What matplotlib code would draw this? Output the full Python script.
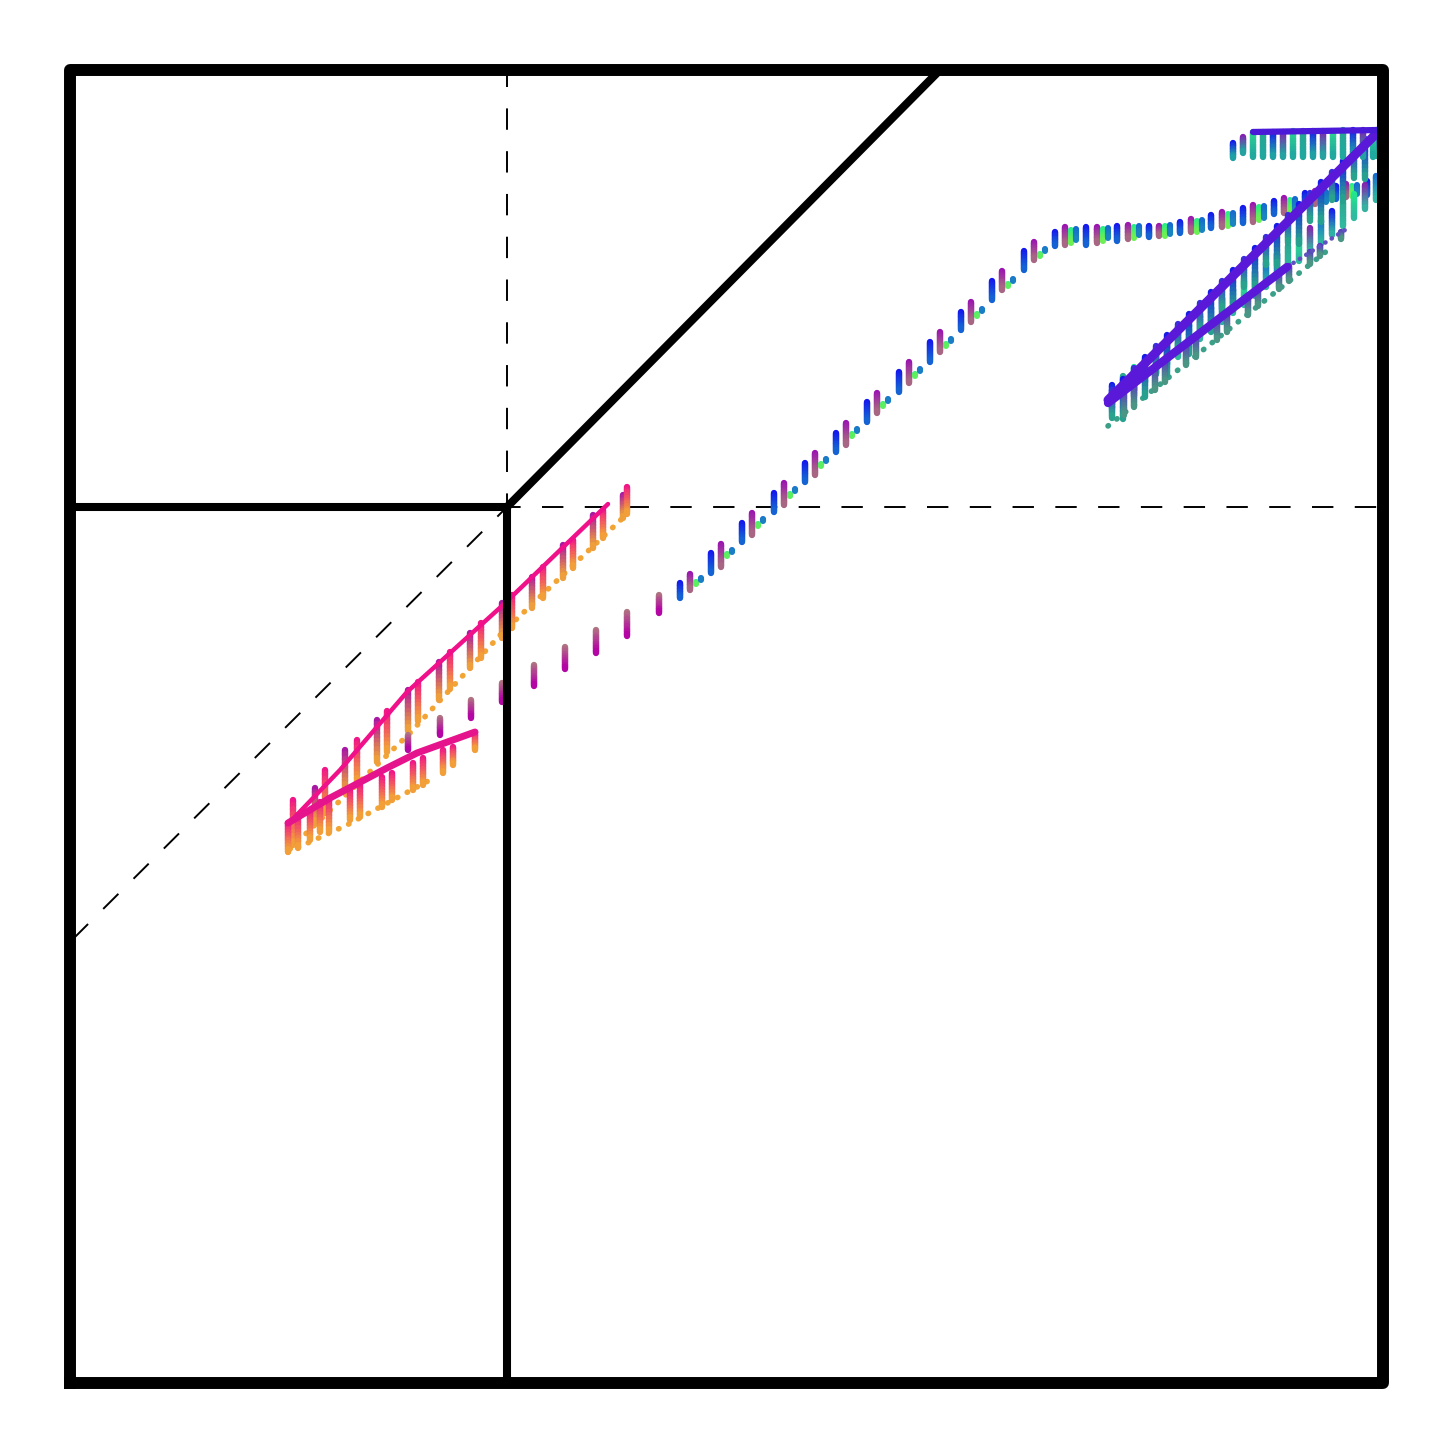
import numpy as np
import matplotlib
matplotlib.use('agg')
import matplotlib.pyplot as plt
from matplotlib.collections import LineCollection
from matplotlib.colors import to_rgb

# ---- box edges (picture units, y grows downward) ----
box_x = [70, 1383, 1383, 70, 70]
box_y = [1383, 1383, 70, 70, 1383]
edge_x = [70, 507, 507]
edge_y = [507, 507, 1383]
diag_x = [507, 940]
diag_y = [507, 70]
dash_v_x, dash_v_y = [507, 507], [507, 70]
dash_h_x, dash_h_y = [507, 1383], [507, 507]
dash_d_x, dash_d_y = [507, 75], [507, 937]

# ---- magenta group ----
a_line_x = [290, 340, 407, 503, 608]
a_line_y = [822, 770, 692, 605, 504]
a_dot_x = [290, 410, 503, 628]
a_dot_y = [849, 733, 632, 513]
a_bar_x = [293, 315, 325, 345, 357, 377, 387, 408, 418, 439, 450, 470, 481, 502, 512, 532, 543, 563, 573, 593, 603, 623, 627]
a_bar_top = [800, 788, 770, 750, 740, 720, 711, 690, 682, 662, 652, 633, 623, 603, 595, 577, 567, 545, 540, 515, 510, 495, 487]
a_bar_bot = [845, 823, 813, 793, 782, 762, 752, 731, 721, 700, 689, 668, 658, 638, 628, 608, 598, 578, 568, 548, 538, 518, 514]

a2_line_x = [288, 330, 387, 417, 475]
a2_line_y = [823, 798, 768, 753, 732]
a2_dot_x = [288, 347, 428]
a2_dot_y = [852, 825, 781]
a2_bar_x = [288, 298, 310, 320, 329, 350, 360, 382, 392, 413, 423, 443, 453, 475]
a2_bar_top = [823, 815, 810, 802, 798, 790, 785, 777, 773, 763, 758, 750, 747, 733]
a2_bar_bot = [852, 848, 840, 832, 832, 820, 817, 807, 800, 790, 785, 773, 765, 750]

c_bar_x = [408, 440, 471, 502, 534, 565, 596, 627, 659]
c_bar_top = [735, 718, 700, 683, 665, 647, 630, 612, 595]
c_bar_bot = [750, 735, 718, 702, 686, 669, 653, 636, 613]

# ---- blue path ----
p_blue_x = [680, 711, 742, 774, 805, 836, 867, 899, 930, 961, 992, 1024, 1055, 1086, 1117, 1149, 1180, 1211, 1243, 1274, 1305, 1336, 1367]
p_blue_top = [583, 553, 523, 493, 463, 433, 402, 372, 342, 312, 281, 251, 232, 227, 226, 226, 222, 215, 208, 201, 193, 186, 181]
p_blue_bot = [598, 573, 542, 512, 482, 452, 422, 392, 362, 330, 300, 270, 246, 245, 241, 237, 233, 228, 223, 214, 206, 199, 195]
p_purp_x = [690, 721, 752, 784, 815, 846, 877, 909, 940, 971, 1002, 1034, 1065, 1097, 1128, 1159, 1191, 1222, 1253, 1284, 1315, 1346, 1377]
p_purp_top = [574, 544, 513, 483, 453, 423, 393, 362, 332, 302, 271, 242, 227, 227, 225, 226, 219, 212, 205, 198, 191, 184, 178]
p_purp_bot = [590, 567, 535, 505, 475, 445, 413, 383, 352, 322, 290, 260, 245, 243, 239, 236, 232, 227, 222, 213, 204, 197, 193]
p_green_x = [696, 727, 758, 790, 821, 852, 883, 915, 946, 977, 1008, 1040, 1071, 1103, 1134, 1165, 1197, 1228, 1259, 1290, 1321, 1352, 1380]
p_green_top = [582, 554, 524, 494, 464, 434, 404, 374, 344, 314, 284, 254, 230, 229, 227, 226, 221, 214, 207, 200, 193, 186, 181]
p_green_bot = [584, 556, 526, 496, 466, 436, 406, 376, 346, 316, 286, 256, 243, 241, 238, 236, 232, 226, 220, 212, 204, 196, 192]
p_teal_x = [701, 732, 763, 795, 826, 857, 888, 920, 951, 982, 1013, 1045, 1076, 1108, 1139, 1170, 1202, 1233, 1264, 1295, 1326, 1357]
p_teal_top = [578, 550, 519, 489, 459, 429, 399, 369, 339, 309, 279, 249, 229, 228, 226, 225, 220, 213, 206, 199, 192, 185]
p_teal_bot = [580, 552, 521, 491, 461, 431, 401, 371, 341, 311, 281, 251, 240, 238, 235, 234, 230, 224, 218, 210, 202, 194]

# ---- upper right group ----
d_line_x = [1253, 1380]
d_line_y = [132, 130]
d_bar_x = [1233, 1243, 1253, 1263, 1273, 1283, 1293, 1303, 1313, 1323, 1333, 1343, 1353, 1363, 1373]
d_bar_top = [143, 137, 132, 132, 132, 132, 131, 131, 131, 131, 131, 130, 130, 130, 130]
d_bar_bot = [158, 153, 157, 157, 157, 157, 157, 157, 157, 157, 157, 157, 157, 157, 157]

b1_line_x = [1108, 1380]
b1_line_y = [400, 130]
b_bar_x = [1112, 1123, 1134, 1145, 1156, 1167, 1178, 1189, 1200, 1211, 1222, 1233, 1244, 1255, 1266, 1277, 1288, 1299, 1310, 1321, 1332, 1343, 1354, 1365, 1376]
b1_bar_top = [390, 379, 368, 357, 346, 335, 324, 314, 303, 292, 281, 270, 259, 248, 237, 226, 215, 204, 193, 182, 172, 161, 150, 139, 130]
b1_bar_bot = [418, 419, 396, 397, 374, 375, 352, 354, 331, 332, 309, 310, 287, 288, 265, 266, 243, 244, 221, 222, 200, 201, 178, 179, 156]
b3_bar_top = [385, 376, 367, 359, 350, 341, 333, 324, 315, 307, 298, 289, 281, 272, 263, 254, 246, 237, 228, 220, 211, 202, 194, 185, 176]
b3_bar_bot = [409, 400, 391, 383, 374, 365, 357, 348, 339, 331, 322, 313, 305, 296, 287, 278, 270, 261, 252, 244, 235, 226, 218, 209, 200]

b2_line_x = [1108, 1287]
b2_line_y = [403, 267]
b2_thin_x = [1287, 1345]
b2_thin_y = [267, 230]
b2_dot_x = [1108, 1328]
b2_dot_y = [426, 250]
b2_bar_x = [1124, 1134, 1155, 1165, 1186, 1196, 1217, 1227, 1248, 1258, 1279, 1289, 1310, 1320, 1341]
b2_bar_top = [391, 383, 367, 360, 344, 336, 320, 313, 297, 289, 273, 266, 252, 246, 232]
b2_bar_bot = [415, 407, 390, 382, 365, 357, 340, 332, 315, 306, 289, 281, 264, 256, 239]

PINK = '#f0108a'
PURPLE = '#a412a8'
ORANGE = '#f2a535'
BLUE = '#1414ee'
MIDBLUE = '#1466d2'
TEAL = '#2aa590'
GREEN = '#22ec8c'
VIOLET = '#5a18d8'


def grad_bars(ax, xs, tops, bots, c_top, c_bot, lw, z=3, n=10):
    # each bar is split into short pieces so the colour can fade top -> bottom
    if isinstance(c_top, str):
        c_top = [c_top] * len(xs)
    if isinstance(c_bot, str):
        c_bot = [c_bot] * len(xs)
    segs, cols = [], []
    for x, t, b, ct, cb in zip(xs, tops, bots, c_top, c_bot):
        ct, cb = np.array(to_rgb(ct)), np.array(to_rgb(cb))
        ys = np.linspace(t, b, n + 1)
        for i in range(n):
            segs.append([(x, ys[i]), (x, ys[i + 1])])
            f = (i + 0.5) / n
            cols.append(ct * (1 - f) + cb * f)
    ax.add_collection(LineCollection(segs, colors=cols, linewidths=lw,
                                     capstyle='round', zorder=z))


fig = plt.figure(figsize=(14.52, 14.52), dpi=100)
ax = fig.add_axes([0, 0, 1, 1])
ax.set_xlim(0, 1452)
ax.set_ylim(1452, 0)
ax.axis('off')

# box
ax.plot(box_x, box_y, color='black', lw=8.6, solid_joinstyle='round', solid_capstyle='projecting', zorder=10)
ax.plot(edge_x, edge_y, color='black', lw=5.8, solid_joinstyle='miter', zorder=10)
ax.plot(diag_x, diag_y, color='black', lw=5.8, solid_capstyle='butt', zorder=10)
for xx, yy in [(dash_v_x, dash_v_y), (dash_h_x, dash_h_y), (dash_d_x, dash_d_y)]:
    ax.plot(xx, yy, color='black', lw=1.4, linestyle=(4, (11, 11)), zorder=1)

DOTS = (0, (0.1, 1.9))

# magenta group
alt_a = [PURPLE if i % 2 else PINK for i in range(len(a_bar_x))]
grad_bars(ax, a_bar_x, a_bar_top, a_bar_bot, alt_a, ORANGE, 4.6)
grad_bars(ax, a2_bar_x, a2_bar_top, a2_bar_bot, PINK, ORANGE, 4.6)
grad_bars(ax, c_bar_x, c_bar_top, c_bar_bot, '#b07a80', '#b400a6', 4.6)
ax.plot(a_dot_x, a_dot_y, color=ORANGE, lw=4.0, linestyle=DOTS, dash_capstyle='round', zorder=2)
ax.plot(a2_dot_x, a2_dot_y, color=ORANGE, lw=4.0, linestyle=DOTS, dash_capstyle='round', zorder=2)
ax.plot(a_line_x, a_line_y, color=PINK, lw=3.2, solid_capstyle='round', zorder=4)
ax.plot(a2_line_x, a2_line_y, color='#e5148c', lw=5.0, solid_capstyle='round', zorder=4)

# blue path
grad_bars(ax, p_blue_x, p_blue_top, p_blue_bot, BLUE, MIDBLUE, 4.6)
grad_bars(ax, p_purp_x, p_purp_top, p_purp_bot, '#9a10b4', '#a86a80', 4.6)
grad_bars(ax, p_green_x, p_green_top, p_green_bot, GREEN, '#70f050', 4.4)
grad_bars(ax, p_teal_x, p_teal_top, p_teal_bot, MIDBLUE, '#1a86c0', 4.4)

# upper right group
cyc = [BLUE, TEAL, GREEN, '#8a18b0', MIDBLUE]
b3_cols = [cyc[i % 5] for i in range(len(b_bar_x))]
grad_bars(ax, b_bar_x, b3_bar_top, b3_bar_bot, b3_cols, '#30b8a0', 4.6)
b1_cols = [BLUE if i % 2 else '#3a28e0' for i in range(len(b_bar_x))]
grad_bars(ax, b_bar_x, b1_bar_top, b1_bar_bot, b1_cols, '#28a88a', 4.6)
grad_bars(ax, b2_bar_x, b2_bar_top, b2_bar_bot, '#5a30c8', '#4a9a80', 4.6)
d_cols = [BLUE, '#8a18b0', '#30d890', TEAL]
grad_bars(ax, d_bar_x, d_bar_top, d_bar_bot, [d_cols[i % 4] for i in range(len(d_bar_x))], '#1fa8a0', 4.6)
ax.plot(b2_dot_x, b2_dot_y, color='#3aa088', lw=4.0, linestyle=DOTS, dash_capstyle='round', zorder=2)
ax.plot(b2_thin_x, b2_thin_y, color='#6050c0', lw=3.2, linestyle=(0, (0.1, 1.6)), dash_capstyle='round', zorder=4)
ax.plot(b2_line_x, b2_line_y, color=VIOLET, lw=6.0, solid_capstyle='round', zorder=4)
ax.plot(b1_line_x, b1_line_y, color=VIOLET, lw=6.5, solid_capstyle='round', zorder=4)
ax.plot(d_line_x, d_line_y, color='#4a1ad8', lw=4.5, solid_capstyle='round', zorder=4)

fig.savefig('out.png', dpi=100)
